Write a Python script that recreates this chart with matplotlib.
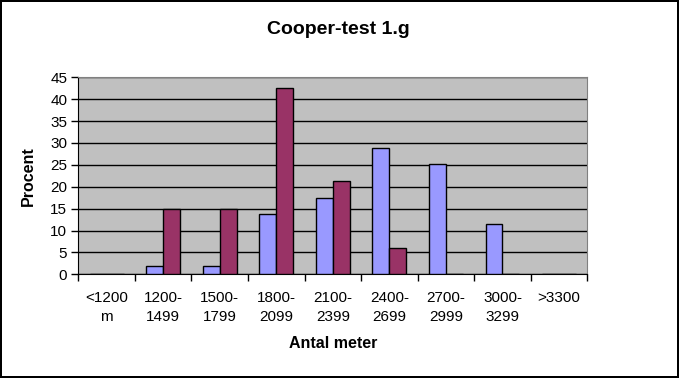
import numpy as np
import matplotlib.pyplot as plt

plt.rcParams['font.family'] = ['Liberation Sans', 'DejaVu Sans']

categories = ['<1200\nm', '1200-\n1499', '1500-\n1799', '1800-\n2099', '2100-\n2399',
              '2400-\n2699', '2700-\n2999', '3000-\n3299', '>3300']
serie1 = [0, 2.0, 2.0, 13.7, 17.4, 28.8, 25.1, 11.4, 0]
serie2 = [0, 15.0, 15.0, 42.5, 21.2, 5.9, 0, 0, 0]
yticks = list(range(0, 50, 5))

fig = plt.figure(figsize=(6.79, 3.78), dpi=100)
fig.patch.set_edgecolor('black')
fig.patch.set_linewidth(1.5)
ax = fig.add_axes([0.1153, 0.2743, 0.7497, 0.5212])

x = np.arange(len(categories))
w = 0.3
ax.bar(x - w / 2, serie1, w, color='#9999FF', edgecolor='black', linewidth=1, zorder=3)
ax.bar(x + w / 2, serie2, w, color='#993366', edgecolor='black', linewidth=1, zorder=3)

ax.set_facecolor('#C0C0C0')
ax.set_xlim(-0.5, len(categories) - 0.5)
ax.set_ylim(0, 45)
ax.set_yticks(yticks)
ax.yaxis.grid(True, color='black', linewidth=1)
ax.set_axisbelow(True)

ax.set_xticks(x)
ax.set_xticklabels(categories, fontsize=11, linespacing=1.45)
ax.set_xticks(np.arange(-0.5, len(categories), 1), minor=True)
ax.tick_params(axis='x', which='major', length=0, pad=12)
ax.tick_params(axis='x', which='minor', length=5, width=1, color='black')
ax.tick_params(axis='y', length=5, width=1, labelsize=11, pad=3)

for s in ['top', 'right']:
    ax.spines[s].set_color('#808080')
for s in ['left', 'bottom']:
    ax.spines[s].set_color('black')

ax.set_ylabel('Procent', fontsize=11.5, fontweight='bold', labelpad=10)
ax.set_xlabel('Antal meter', fontsize=11.5, fontweight='bold', labelpad=9)
fig.suptitle('Cooper-test 1.g', fontsize=14, fontweight='bold', x=0.498, y=0.945)

fig.savefig('out.png', dpi=100)
